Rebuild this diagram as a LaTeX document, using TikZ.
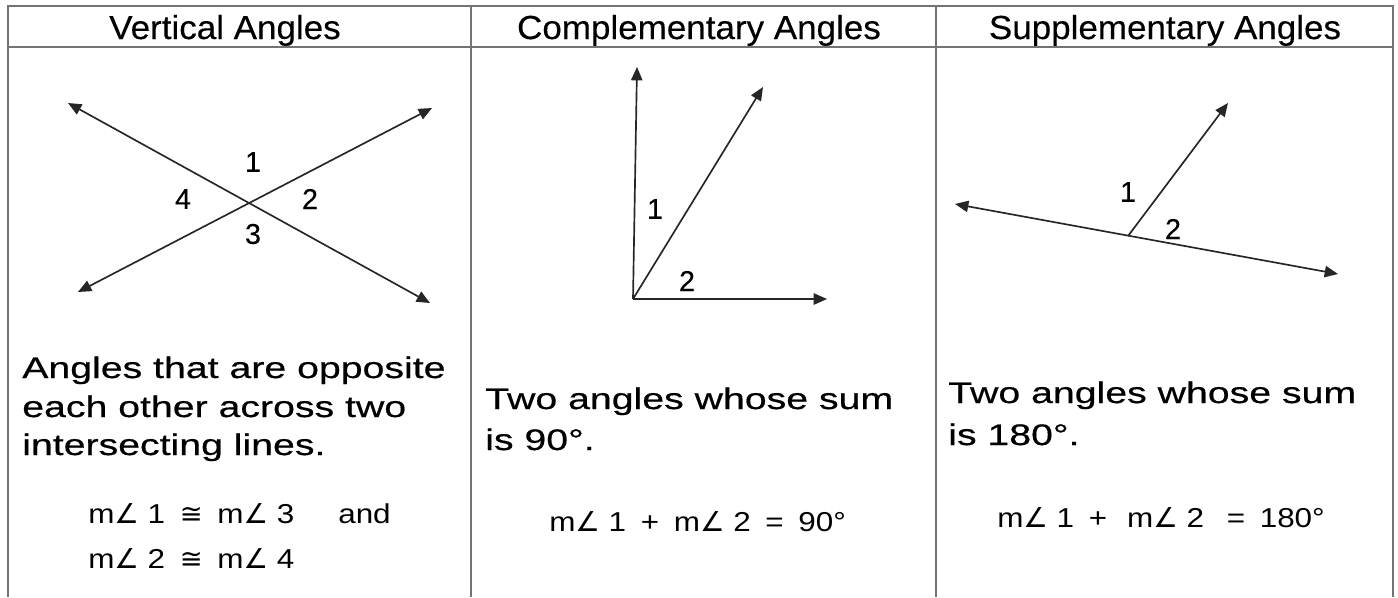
\documentclass[tikz,border=0pt]{standalone}
\usepackage{fontspec}
\setmainfont{Liberation Sans}
\newfontfamily\headfont[FakeStretch=1.05, FakeBold=0.3]{Liberation Sans}
\newfontfamily\bodyfont[FakeStretch=1.32, FakeBold=0.5]{Liberation Sans}
\newfontfamily\eqfont[FakeStretch=1.15]{Liberation Sans}
\newfontfamily\numfont[FakeBold=0.3]{Liberation Sans}
\newfontfamily\symbfont{DejaVu Sans}
\usetikzlibrary{arrows.meta, positioning}

\newcommand{\mang}{m{\symbfont ∠}}
\newcommand{\gap}{\hspace{11pt}}

\begin{document}
\begin{tikzpicture}[x=0.75pt, y=-0.75pt,
    rule/.style={draw=black!55, line width=1.4pt},
    ray/.style={line width=1.25pt, draw=black!85, -{Triangle[length=10pt, width=8.5pt]}},
    twoway/.style={line width=1.25pt, draw=black!85, {Triangle[length=10pt, width=8.5pt]}-{Triangle[length=10pt, width=8.5pt]}},
    head/.style={font=\headfont\fontsize{25}{30}\selectfont, anchor=base, inner sep=0pt},
    body/.style={font=\bodyfont\fontsize{22.3}{29}\selectfont, anchor=base west, inner sep=0pt},
    eq/.style={font=\eqfont\fontsize{20.5}{24}\selectfont, anchor=base west, inner sep=0pt},
    num/.style={font=\numfont\fontsize{21.5}{24}\selectfont, inner sep=0pt}]
    \useasboundingbox (0,0) rectangle (1398,597);

    % Table frame
    \draw[rule] (8,597) -- (8,6) -- (1393,6) -- (1393,597);
    \draw[rule] (8,47) -- (1393,47);
    \draw[rule] (471,6) -- (471,597);
    \draw[rule] (936,6) -- (936,597);

    % Headers
    \node[head] (hvert) at (225,39) {Vertical Angles};
    \node[head] (hcomp) at (699,39) {Complementary Angles};
    \node[head] (hsupp) at (1165,39) {Supplementary Angles};

    % Column 1: vertical angles
    \coordinate (vx) at (249,203);
    \coordinate (ul) at (68,103);
    \coordinate (lr) at (430,303);
    \coordinate (ll) at (78,292);
    \coordinate (ur) at (432,108);
    \draw[twoway] (ul) -- (lr);
    \draw[twoway] (ll) -- (ur);
    \node[num] (v1) at (253,162) {1};
    \node[num] (v2) at (310,199) {2};
    \node[num] (v3) at (253,234) {3};
    \node[num] (v4) at (183,199) {4};

    \node[body] (vtxt1) at (22,378) {Angles that are opposite};
    \node[body] (vtxt2) at (22,417) {each other across two};
    \node[body] (vtxt3) at (22,455) {intersecting lines.};
    \node[eq] (veq1) at (88,523) {\mang\ 1\gap{\symbfont ≅}\gap\mang\ 3\hspace{33pt}and};
    \node[eq] (veq2) at (88,568) {\mang\ 2\gap{\symbfont ≅}\gap\mang\ 4};

    % Column 2: complementary angles
    \coordinate (cx) at (633,299);
    \coordinate (cup) at (637,67);
    \coordinate (cright) at (827,299);
    \coordinate (cdiag) at (763,87);
    \draw[ray] (cx) -- (cup);
    \draw[ray] (cx) -- (cright);
    \draw[ray] (cx) -- (cdiag);
    \node[num] (c1) at (655,209) {1};
    \node[num] (c2) at (687,281) {2};

    \node[body] (ctxt1) at (485,409) {Two angles whose sum};
    \node[body] (ctxt2) at (485,450) {is 90°.};
    \node[eq] (ceq) at (549,531) {\mang\ 1\gap+\gap\mang\ 2\gap=\gap90°};

    % Column 3: supplementary angles
    \coordinate (sx) at (1128,236);
    \coordinate (sleft) at (955,204);
    \coordinate (sright) at (1338,274);
    \coordinate (sray) at (1228,103);
    \draw[twoway] (sleft) -- (sright);
    \draw[ray] (sx) -- (sray);
    \node[num] (s1) at (1128,192) {1};
    \node[num] (s2) at (1173,229) {2};

    \node[body] (stxt1) at (948,403) {Two angles whose sum};
    \node[body] (stxt2) at (948,445) {is 180°.};
    \node[eq] (seq) at (997,527) {\mang\ 1\gap+\hspace{15pt}\mang\ 2\hspace{17pt}=\gap180°};
\end{tikzpicture}
\end{document}
